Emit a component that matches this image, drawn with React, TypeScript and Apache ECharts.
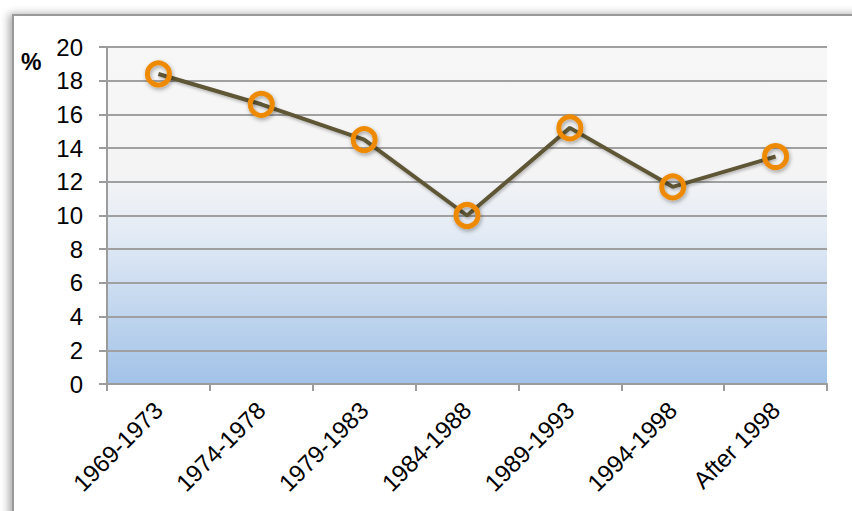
import React, { useEffect, useRef } from "react";
import * as echarts from "echarts";

const categories = ["1969-1973", "1974-1978", "1979-1983", "1984-1988", "1989-1993", "1994-1998", "After 1998"];
const values = [18.4, 16.6, 14.5, 10.0, 15.2, 11.7, 13.5];
const yTicks = { min: 0, max: 20, interval: 2 };
const unitLabel = "%";

export default function App() {
  const ref = useRef<HTMLDivElement>(null);
  useEffect(() => {
    document.body.style.margin = "0";
    const chart = echarts.init(ref.current!, null, { renderer: "svg" });
    const font = "'Liberation Sans', Arial, sans-serif";
    chart.setOption({
      animation: false,
      backgroundColor: "#ffffff",
      graphic: [
        {
          type: "rect",
          z: -10,
          shape: { x: 13, y: 15, width: 900, height: 600 },
          style: {
            fill: "#ffffff",
            stroke: "#9a9a9a",
            lineWidth: 2,
            shadowBlur: 8,
            shadowOffsetX: -3,
            shadowOffsetY: 0,
            shadowColor: "rgba(0,0,0,0.35)",
          },
          silent: true,
        },
        {
          type: "text",
          x: 21,
          y: 50,
          style: {
            text: unitLabel,
            fontSize: 23,
            fontWeight: "bold",
            fontFamily: font,
            fill: "#000",
          },
        },
      ],
      grid: {
        left: 107,
        right: 25,
        top: 47,
        bottom: 127,
        show: true,
        borderWidth: 0,
        backgroundColor: new echarts.graphic.LinearGradient(0, 0, 0, 1, [
          { offset: 0, color: "#f7f7f7" },
          { offset: 0.38, color: "#f4f4f5" },
          { offset: 0.55, color: "#e3ebf5" },
          { offset: 1, color: "#a2c2e8" },
        ]),
      },
      xAxis: {
        type: "category",
        data: categories,
        boundaryGap: true,
        axisLine: { show: true, lineStyle: { color: "#9c9c9c", width: 2 } },
        axisTick: { show: true, length: 7, lineStyle: { color: "#9c9c9c", width: 2 } },
        axisLabel: {
          rotate: 45,
          margin: 22,
          fontSize: 24,
          fontFamily: font,
          color: "#000",
          interval: 0,
        },
        splitLine: { show: false },
      },
      yAxis: {
        type: "value",
        min: yTicks.min,
        max: yTicks.max,
        interval: yTicks.interval,
        axisLine: { show: true, lineStyle: { color: "#9c9c9c", width: 2 } },
        axisTick: { show: true, length: 8, lineStyle: { color: "#9c9c9c", width: 2 } },
        axisLabel: { margin: 24, fontSize: 24, fontFamily: font, color: "#000" },
        splitLine: { show: true, lineStyle: { color: "#a0a0a0", width: 2 } },
      },
      series: [
        {
          type: "line",
          data: values,
          symbol: "circle",
          symbolSize: 22,
          lineStyle: {
            color: "#5e5636",
            width: 4,
            shadowBlur: 3,
            shadowOffsetX: 1,
            shadowOffsetY: 2,
            shadowColor: "rgba(0,0,0,0.25)",
          },
          itemStyle: {
            color: "rgba(255,255,255,0)",
            borderColor: "#ee8a00",
            borderWidth: 5,
            shadowBlur: 4,
            shadowOffsetX: 1,
            shadowOffsetY: 2,
            shadowColor: "rgba(0,0,0,0.35)",
          },
        },
      ],
    });
    return () => chart.dispose();
  }, []);
  return <div ref={ref} style={{ position: "fixed", left: 0, top: 0, width: 852, height: 511 }} />;
}
